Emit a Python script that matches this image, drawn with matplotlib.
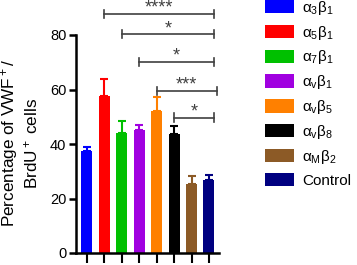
import matplotlib
matplotlib.use("Agg")
import matplotlib.pyplot as plt
from matplotlib.patches import Patch

plt.rcParams['font.family'] = ['Liberation Sans', 'DejaVu Sans']
plt.rcParams['mathtext.fontset'] = 'custom'
plt.rcParams['mathtext.rm'] = 'Liberation Sans'
plt.rcParams['mathtext.it'] = 'Liberation Sans'
plt.rcParams['mathtext.bf'] = 'Liberation Sans:bold'

labels = ['α$_3$β$_1$', 'α$_5$β$_1$', 'α$_7$β$_1$', 'α$_\\mathrm{v}$β$_1$',
          'α$_\\mathrm{v}$β$_5$', 'α$_\\mathrm{v}$β$_8$', 'α$_\\mathrm{M}$β$_2$', 'Control']
means = [37.4, 57.7, 43.9, 45.3, 52.0, 43.8, 25.4, 26.8]
errors = [1.6, 6.3, 4.4, 1.8, 5.4, 2.8, 2.9, 1.9]
colors = ['#0000FF', '#FF0000', '#00C000', '#A000E0', '#FF8000', '#000000', '#8C5A26', '#000080']

# significance brackets: (start index, end index, y level, label)
sig_start = [1, 2, 3, 4, 5]
sig_end = [7.3, 7.3, 7.3, 7.45, 7.3]
sig_y = [87.7, 80.3, 70.1, 59.6, 49.7]
sig_text = ['****', '*', '*', '***', '*']

fig = plt.figure(figsize=(3.57, 2.65), dpi=100)
ax = fig.add_axes([76/357, 12/265, (222-76)/357, (253-12)/265])

x = list(range(len(means)))
ax.bar(x, means, width=0.63, color=colors, zorder=2)
for xi, m, e, c in zip(x, means, errors, colors):
    ax.errorbar(xi, m, yerr=[[0], [e]], color=c, capsize=3, elinewidth=1.5, capthick=1.5, zorder=1)

for s, e, y, t in zip(sig_start, sig_end, sig_y, sig_text):
    ax.plot([s, e], [y, y], color='#404040', lw=1.2, clip_on=False)
    for xx in (s, e):
        ax.plot([xx, xx], [y - 1.5, y + 1.5], color='#404040', lw=1.2, clip_on=False)
    ax.text((s + e) / 2, y + 0.4, t, ha='center', va='baseline', fontsize=13, color='#404040')

ax.set_xlim(-0.63, 7.75)
ax.set_ylim(0, 80 * (253 - 12) / (253 - 35))
ax.spines['left'].set_bounds(0, 80)
ax.spines['bottom'].set_bounds(-0.63, 7.55)
for sp in ('top', 'right'):
    ax.spines[sp].set_visible(False)
for sp in ('left', 'bottom'):
    ax.spines[sp].set_linewidth(1.8)
ax.set_yticks([0, 20, 40, 60, 80])
ax.set_xticks(x)
ax.set_xticklabels([])
ax.tick_params(axis='y', length=5, width=1.8, labelsize=10.5, pad=2)
ax.tick_params(axis='x', length=7, width=1.5)
ax.set_ylabel('Percentage of VWF$^+$/\nBrdU$^+$ cells', fontsize=12.3, linespacing=1.1)
ax.yaxis.set_label_coords(-0.247, 0.456)

handles = [Patch(facecolor=c, edgecolor='none') for c in colors]
fig.legend(handles, labels, loc='upper left', bbox_to_anchor=(265/357, 1.005), frameon=False,
           fontsize=11, handlelength=1.9, handleheight=0.95, labelspacing=0.45,
           handletextpad=0.55, borderaxespad=0, borderpad=0)

fig.savefig('out.png', dpi=100)
